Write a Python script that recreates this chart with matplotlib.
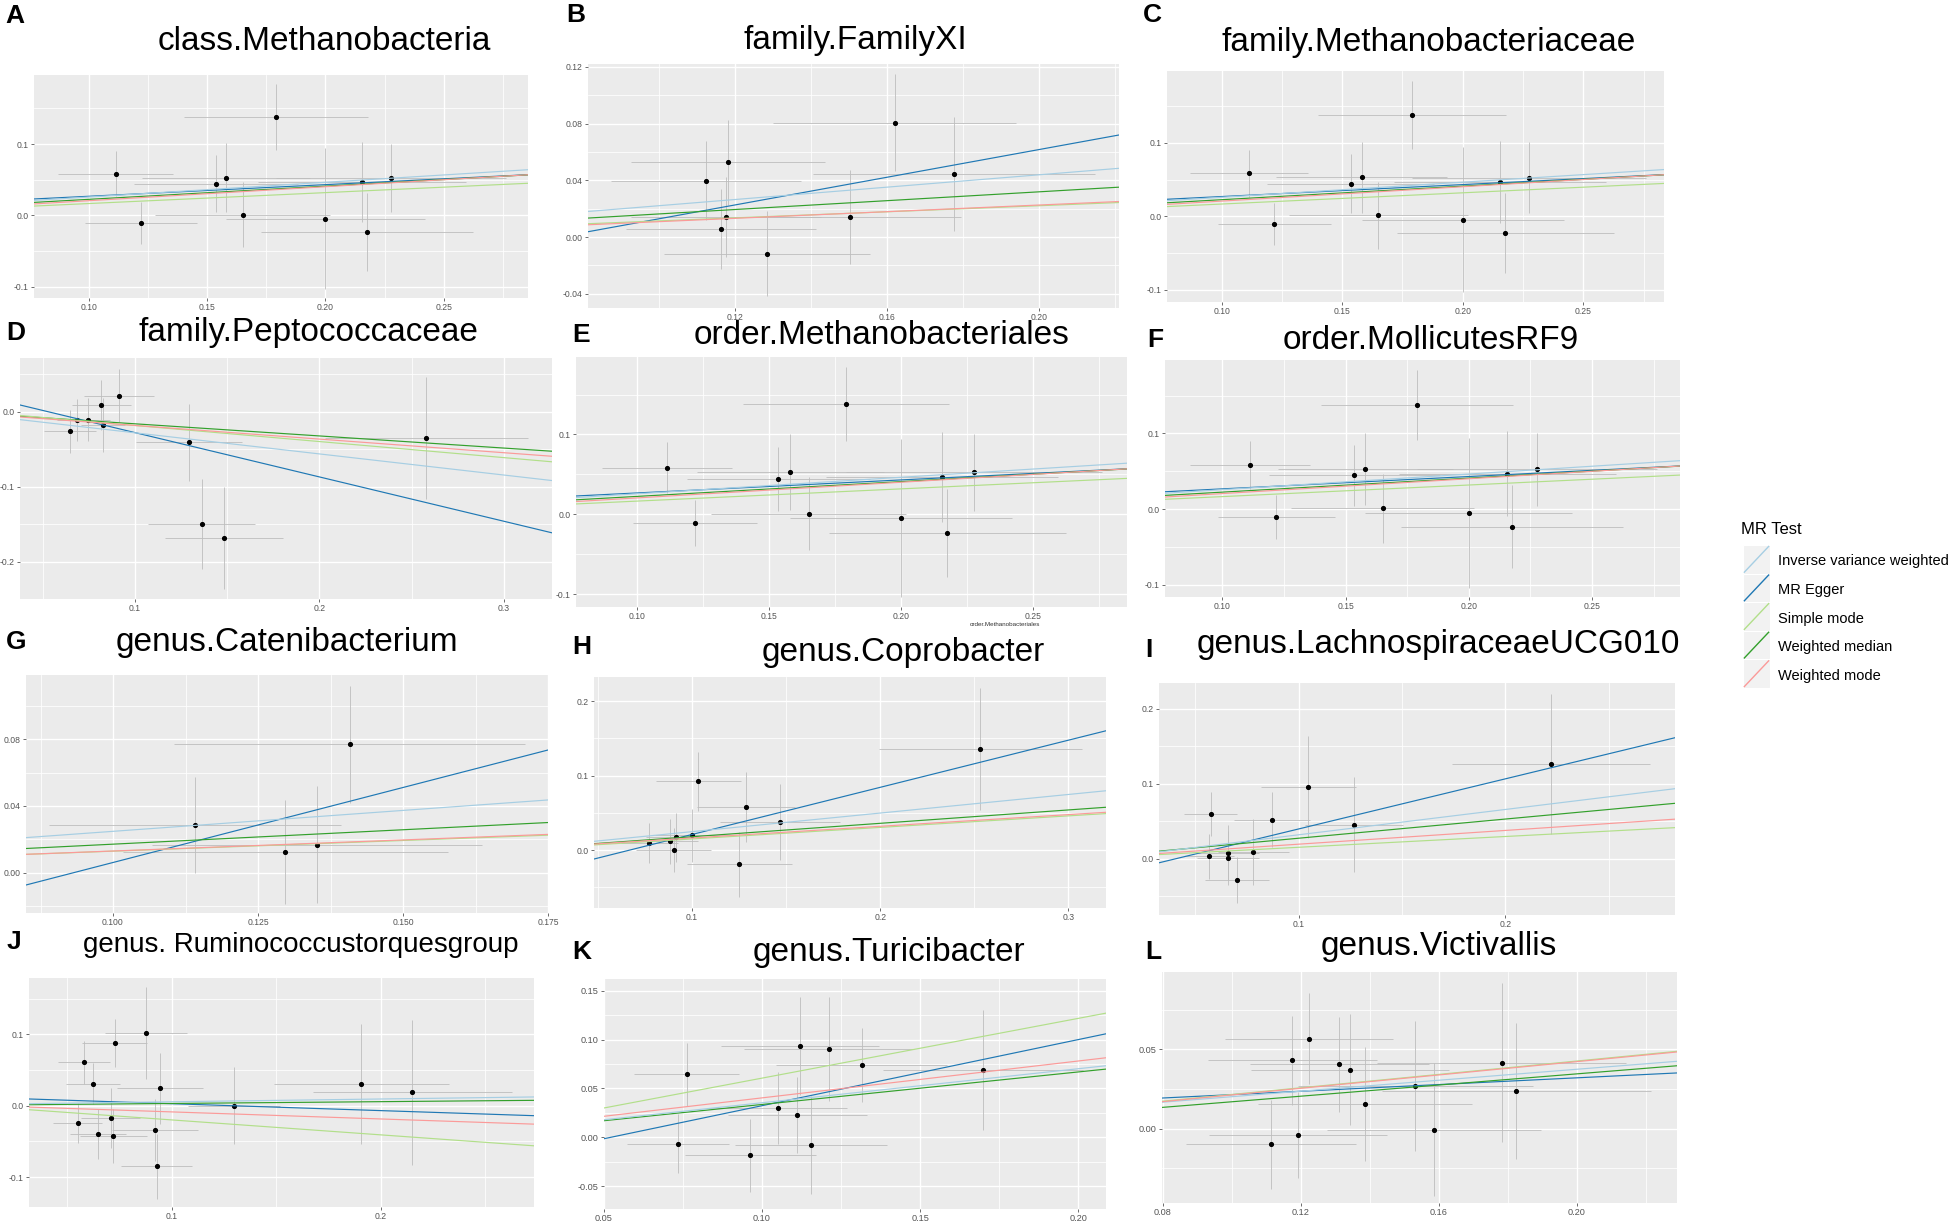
import matplotlib
matplotlib.use('Agg')
import matplotlib.pyplot as plt
from matplotlib.patches import Rectangle
from matplotlib.ticker import MultipleLocator, FormatStrFormatter

plt.rcParams['font.family'] = ['Liberation Sans', 'DejaVu Sans']
plt.rcParams['axes.unicode_minus'] = False

W, H = 1949, 1221

METHODS = ['Inverse variance weighted', 'MR Egger', 'Simple mode',
           'Weighted median', 'Weighted mode']
COLORS = ['#A6CEE3', '#1F78B4', '#B2DF8A', '#33A02C', '#FB9A99']
DRAW_ORDER = [1, 3, 0, 2, 4]   # row order of the MR results table

# ---- SNP effects (exposure beta x, outcome beta y, and their SEs) ----
# class / family / order Methanobacteria* share the same instruments
meth_bx = [0.1112, 0.1219, 0.1535, 0.1580, 0.1650, 0.1790, 0.2000, 0.2156, 0.2176, 0.2276]
meth_by = [0.0585, -0.0108, 0.0445, 0.0530, 0.0010, 0.1380, -0.0050, 0.0470, -0.0230, 0.0525]
meth_sex = [0.0245, 0.0236, 0.0347, 0.0354, 0.0370, 0.0390, 0.0420, 0.0440, 0.0450, 0.0486]
meth_sey = [0.0320, 0.0290, 0.0400, 0.0480, 0.0460, 0.0460, 0.0990, 0.0560, 0.0550, 0.0480]
meth_icpt = [0.0052, 0.0105, 0.0013, 0.0040, 0.0010]
meth_slope = [0.206, 0.163, 0.153, 0.185, 0.196]

fam11_bx = [0.1124, 0.1181, 0.1177, 0.1163, 0.1285, 0.1620, 0.1504, 0.1776]
fam11_by = [0.0397, 0.0528, 0.0143, 0.0056, -0.0117, 0.0807, 0.0143, 0.0446]
fam11_sex = [0.0250, 0.0255, 0.0250, 0.0250, 0.0270, 0.0320, 0.0290, 0.0370]
fam11_sey = [0.0280, 0.0300, 0.0280, 0.0280, 0.0300, 0.0340, 0.0330, 0.0400]
fam11_icpt = [0.0003, -0.0360, 0.0007, 0.0007, -0.0009]
fam11_slope = [0.218, 0.4885, 0.107, 0.156, 0.1175]

pepto_bx = [0.0649, 0.0688, 0.0746, 0.0818, 0.0828, 0.0915, 0.1295, 0.1362, 0.1483, 0.2580]
pepto_by = [-0.0262, -0.0107, -0.0107, 0.0089, -0.0182, 0.0213, -0.0409, -0.1493, -0.1680, -0.0351]
pepto_sex = [0.0140, 0.0110, 0.0120, 0.0160, 0.0120, 0.0190, 0.0286, 0.0288, 0.0318, 0.0550]
pepto_sey = [0.0290, 0.0280, 0.0290, 0.0330, 0.0360, 0.0350, 0.0516, 0.0600, 0.0680, 0.0820]
pepto_icpt = [0.0000, 0.0313, 0.0030, 0.0000, -0.0002]
pepto_slope = [-0.282, -0.592, -0.2145, -0.162, -0.182]

cateni_bx = [0.1141, 0.1297, 0.1352, 0.1408]
cateni_by = [0.0286, 0.0124, 0.0168, 0.0770]
cateni_sex = [0.0252, 0.0280, 0.0285, 0.0303]
cateni_sey = [0.0290, 0.0310, 0.0350, 0.0350]
cateni_icpt = [-0.0004, -0.0840, 0.0000, -0.0003, -0.0004]
cateni_slope = [0.251, 0.900, 0.128, 0.173, 0.133]

copro_bx = [0.0773, 0.0881, 0.0903, 0.0913, 0.1002, 0.1032, 0.1286, 0.1252, 0.1468, 0.2532]
copro_by = [0.0090, 0.0117, 0.0000, 0.0170, 0.0197, 0.0924, 0.0583, -0.0193, 0.0372, 0.1354]
copro_sex = [0.0150, 0.0150, 0.0200, 0.0160, 0.0200, 0.0226, 0.0260, 0.0280, 0.0318, 0.0540]
copro_sey = [0.0270, 0.0300, 0.0290, 0.0330, 0.0360, 0.0400, 0.0470, 0.0440, 0.0510, 0.0820]
copro_icpt = [-0.0003, -0.0425, -0.0006, -0.0001, 0.0005]
copro_slope = [0.250, 0.634, 0.155, 0.180, 0.157]

lachno_bx = [0.0566, 0.0574, 0.0657, 0.0660, 0.0703, 0.0781, 0.0871, 0.1047, 0.1267, 0.2219]
lachno_by = [0.0031, 0.0596, 0.0084, 0.0013, -0.0280, 0.0093, 0.0524, 0.0960, 0.0458, 0.1267]
lachno_sex = [0.0120, 0.0127, 0.0150, 0.0150, 0.0155, 0.0170, 0.0185, 0.0228, 0.0235, 0.0480]
lachno_sey = [0.0300, 0.0296, 0.0370, 0.0360, 0.0310, 0.0440, 0.0370, 0.0680, 0.0640, 0.0930]
lachno_icpt = [-0.0017, -0.0270, 0.0010, 0.0019, 0.0012]
lachno_slope = [0.338, 0.669, 0.144, 0.256, 0.1835]

rumino_bx = [0.0550, 0.0580, 0.0623, 0.0648, 0.0708, 0.0720, 0.0727, 0.0875, 0.0918, 0.0944,
             0.0927, 0.1297, 0.1906, 0.2150]
rumino_by = [-0.0239, 0.0609, 0.0309, -0.0398, -0.0178, -0.0426, 0.0881, 0.1021, -0.0342, 0.0244,
             -0.0852, 0.0000, 0.0309, 0.0187]
rumino_sex = [0.0116, 0.0125, 0.0130, 0.0135, 0.0140, 0.0160, 0.0155, 0.0196, 0.0205, 0.0206,
              0.0168, 0.0220, 0.0418, 0.0476]
rumino_sey = [0.0280, 0.0300, 0.0290, 0.0350, 0.0420, 0.0380, 0.0335, 0.0640, 0.0430, 0.0500,
              0.0460, 0.0540, 0.0840, 0.1015]
rumino_icpt = [0.0016, 0.0125, 0.0010, 0.0006, 0.0012]
rumino_slope = [0.039, -0.097, -0.2095, 0.0253, -0.099]

turici_bx = [0.0734, 0.0762, 0.0963, 0.1050, 0.1112, 0.1154, 0.1120, 0.1211, 0.1315, 0.1699]
turici_by = [-0.0065, 0.0644, -0.0184, 0.0303, 0.0225, -0.0082, 0.0934, 0.0906, 0.0739, 0.0688]
turici_sex = [0.0160, 0.0166, 0.0208, 0.0220, 0.0220, 0.0240, 0.0250, 0.0268, 0.0271, 0.0316]
turici_sey = [0.0300, 0.0320, 0.0370, 0.0370, 0.0390, 0.0500, 0.0500, 0.0530, 0.0380, 0.0610]
turici_icpt = [0.0006, -0.0352, -0.0005, 0.0004, 0.0027]
turici_slope = [0.348, 0.676, 0.611, 0.3325, 0.377]

victi_bx = [0.1114, 0.1176, 0.1193, 0.1223, 0.1312, 0.1343, 0.1387, 0.1532, 0.1587, 0.1782, 0.1824]
victi_by = [-0.0099, 0.0431, -0.0042, 0.0567, 0.0405, 0.0372, 0.0153, 0.0267, -0.0006, 0.0416, 0.0237]
victi_sex = [0.0247, 0.0244, 0.0258, 0.0243, 0.0260, 0.0286, 0.0310, 0.0340, 0.0310, 0.0360, 0.0390]
victi_sey = [0.0280, 0.0280, 0.0270, 0.0286, 0.0300, 0.0350, 0.0360, 0.0410, 0.0420, 0.0500, 0.0430]
victi_icpt = [0.0028, 0.0108, 0.0004, -0.0007, 0.0002]
victi_slope = [0.173, 0.106, 0.211, 0.176, 0.210]

METH = (meth_bx, meth_by, meth_sex, meth_sey, meth_icpt, meth_slope)

# letter, title, data, axes box in px (x0, y0, x1, y1), xlim, ylim, tick steps, decimals,
# letter pos, title centre, title size, tick font size
PANELS = [
    ('A', 'class.Methanobacteria', METH, (34, 75, 528, 298), (0.0767, 0.2857), (-0.116, 0.197),
     (0.05, 0.1), (2, 1), (5, 16), (324, 42), 24, 6.2),
    ('B', 'family.FamilyXI', (fam11_bx, fam11_by, fam11_sex, fam11_sey, fam11_icpt, fam11_slope),
     (588, 64, 1119, 308), (0.0814, 0.221), (-0.050, 0.122),
     (0.04, 0.04), (2, 2), (566, 15), (855, 40), 24, 6.2),
    ('C', 'family.Methanobacteriaceae', METH, (1167, 71, 1664, 302), (0.0773, 0.2835), (-0.117, 0.198),
     (0.05, 0.1), (2, 1), (1143, 15), (1429, 43), 24, 6.2),
    ('D', 'family.Peptococcaceae', (pepto_bx, pepto_by, pepto_sex, pepto_sey, pepto_icpt, pepto_slope),
     (20, 358, 552, 599), (0.0378, 0.326), (-0.250, 0.0716),
     (0.1, 0.1), (1, 1), (6, 333), (308, 333), 24, 6.2),
    ('E', 'order.Methanobacteriales', METH, (576, 357, 1127, 607), (0.0767, 0.2857), (-0.116, 0.197),
     (0.05, 0.1), (2, 1), (572, 335), (882, 335), 24, 6.2),
    ('F', 'order.MollicutesRF9', METH, (1165, 360, 1680, 597), (0.0767, 0.2857), (-0.116, 0.197),
     (0.05, 0.1), (2, 1), (1147, 340), (1431, 340), 24, 6.2),
    ('G', 'genus.Catenibacterium', (cateni_bx, cateni_by, cateni_sex, cateni_sey, cateni_icpt, cateni_slope),
     (26, 675, 548, 913), (0.085, 0.175), (-0.0243, 0.1185),
     (0.025, 0.04), (3, 2), (6, 642), (287, 643), 24, 6.2),
    ('H', 'genus.Coprobacter', (copro_bx, copro_by, copro_sex, copro_sey, copro_icpt, copro_slope),
     (594, 677, 1106, 908), (0.0479, 0.320), (-0.078, 0.2327),
     (0.1, 0.1), (1, 1), (572, 647), (903, 652), 24, 6.2),
    ('I', 'genus.LachnospiraceaeUCG010', (lachno_bx, lachno_by, lachno_sex, lachno_sey, lachno_icpt, lachno_slope),
     (1159, 683, 1675, 915), (0.0324, 0.282), (-0.075, 0.2347),
     (0.1, 0.1), (1, 1), (1145, 650), (1438, 645), 24, 6.2),
    ('J', 'genus. Ruminococcustorquesgroup', (rumino_bx, rumino_by, rumino_sex, rumino_sey, rumino_icpt, rumino_slope),
     (29, 978, 534, 1207), (0.0317, 0.2732), (-0.142, 0.179),
     (0.1, 0.1), (1, 1), (7, 942), (301, 945), 20, 6.2),
    ('K', 'genus.Turicibacter', (turici_bx, turici_by, turici_sex, turici_sey, turici_icpt, turici_slope),
     (604, 979, 1106, 1209), (0.05, 0.2088), (-0.0733, 0.162),
     (0.05, 0.05), (2, 2), (572, 952), (889, 953), 24, 6.6),
    ('L', 'genus.Victivallis', (victi_bx, victi_by, victi_sex, victi_sey, victi_icpt, victi_slope),
     (1162, 972, 1677, 1203), (0.0798, 0.229), (-0.0469, 0.0987),
     (0.04, 0.05), (2, 2), (1145, 952), (1439, 947), 24, 6.6),
]


def px_rect(box):
    x0, y0, x1, y1 = box
    return [x0 / W, 1 - y1 / H, (x1 - x0) / W, (y1 - y0) / H]


def draw_panel(fig, p):
    letter, title, data, box, xlim, ylim, steps, decs, lpos, tpos, tsize, fsize = p
    bx, by, sex, sey, icpt, slope = data
    ax = fig.add_axes(px_rect(box))
    ax.set_facecolor('#EBEBEB')
    for s in ax.spines.values():
        s.set_visible(False)

    ax.errorbar(bx, by, yerr=sey, fmt='none', ecolor='#BDBDBD', elinewidth=0.6, capsize=0, zorder=2)
    ax.errorbar(bx, by, xerr=sex, fmt='none', ecolor='#BDBDBD', elinewidth=0.6, capsize=0, zorder=2)
    ax.plot(bx, by, 'o', color='black', ms=2.7, zorder=3)
    for i in DRAW_ORDER:
        ax.axline((0, icpt[i]), slope=slope[i], color=COLORS[i], lw=0.85, zorder=4)

    ax.set_xlim(*xlim)
    ax.set_ylim(*ylim)
    ax.xaxis.set_major_locator(MultipleLocator(steps[0]))
    ax.xaxis.set_minor_locator(MultipleLocator(steps[0] / 2))
    ax.yaxis.set_major_locator(MultipleLocator(steps[1]))
    ax.yaxis.set_minor_locator(MultipleLocator(steps[1] / 2))
    ax.xaxis.set_major_formatter(FormatStrFormatter(f'%.{decs[0]}f'))
    ax.yaxis.set_major_formatter(FormatStrFormatter(f'%.{decs[1]}f'))
    ax.grid(which='major', color='white', lw=1.0)
    ax.grid(which='minor', color='white', lw=0.55)
    ax.set_axisbelow(True)
    ax.tick_params(which='major', length=2.2, width=0.5, color='#333333',
                   labelsize=fsize, labelcolor='#555555', pad=1.5)
    ax.tick_params(which='minor', length=0)

    fig.text(lpos[0] / W, 1 - lpos[1] / H, letter, fontsize=19, fontweight='bold',
             ha='left', va='center')
    fig.text(tpos[0] / W, 1 - tpos[1] / H, title, fontsize=tsize, ha='center', va='center')
    return ax


fig = plt.figure(figsize=(W / 100, H / 100), dpi=100)
for p in PANELS:
    draw_panel(fig, p)

# stray x-axis title under panel E
fig.text(1005 / W, 1 - 625 / H, 'order.Methanobacteriales', fontsize=4.5,
         color='#333333', ha='center', va='center')

# legend (ggplot-style abline keys)
fig.text(1741 / W, 1 - 530 / H, 'MR Test', fontsize=12, ha='left', va='center')
lax = fig.add_axes(px_rect((1743, 545, 1770, 688)))
lax.set_xlim(0, 1)
lax.set_ylim(0, len(METHODS))
lax.axis('off')
for k, name in enumerate(METHODS):
    row = len(METHODS) - 1 - k
    lax.add_patch(Rectangle((0, row), 1, 1, facecolor='#F2F2F2', edgecolor='white', lw=0.8))
    lax.plot([0.05, 0.95], [row + 0.05, row + 0.95], color=COLORS[k], lw=1.0)
    fig.text(1778 / W, 1 - (547 + (k + 0.5) * 28.6) / H, name, fontsize=10.5,
             ha='left', va='center')

fig.savefig('out.png', dpi=100)
